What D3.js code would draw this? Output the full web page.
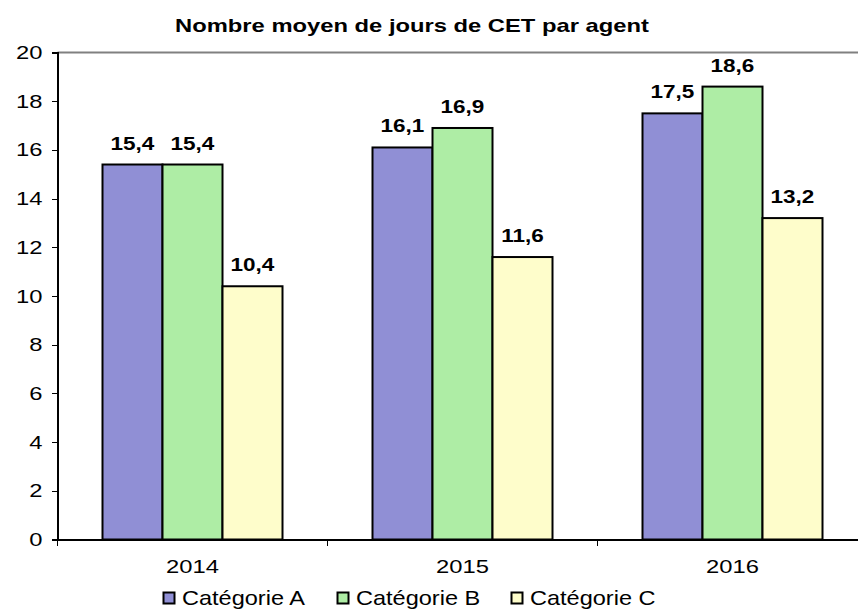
<!doctype html>
<html lang="fr">
<head>
<meta charset="UTF-8">
<title>Nombre moyen de jours de CET par agent</title>
<style>
    body { margin: 0; background: #fff; }
    svg { display: block; font-family: "Liberation Sans", Arial, sans-serif; }
    .axis text { font-size: 19px; fill: #000; }
    .axis path, .axis line { stroke: #000; shape-rendering: crispEdges; }
    .bar { stroke: #000; stroke-width: 2; }
    .label { font-size: 18px; font-weight: bold; text-anchor: middle; }
</style>
</head>
<body>
<svg class="chart"></svg>
<script src="https://d3js.org/d3.v7.min.js"></script>
<script>
    var years = ["2014", "2015", "2016"];
    var series = ["Catégorie A", "Catégorie B", "Catégorie C"];
    var catA = [15.4, 16.1, 17.5];
    var catB = [15.4, 16.9, 18.6];
    var catC = [10.4, 11.6, 13.2];
    var yTicks = [0, 2, 4, 6, 8, 10, 12, 14, 16, 18, 20];
    var colors = ["#908fd5", "#aeeda5", "#fefdcb"];

    var values = [catA, catB, catC];

    var totalWidth = 858, totalHeight = 609;
    var margin = {top: 52.5, left: 57.5};
    var width = 810, height = 487;
    var stretchX = 1.25; // the original picture is wider than tall

    var svg = d3.select(".chart")
        .attr("width", totalWidth)
        .attr("height", totalHeight);

    var g = svg.append("g")
        .attr("transform", "translate(" + margin.left + "," + margin.top + ")");

    var x = d3.scaleBand().domain(years).range([0, width]);
    var inner = d3.scaleBand().domain(series).range([0, x.bandwidth() * 2 / 3]);
    var y = d3.scaleLinear().domain([0, 20]).range([height, 0]);
    var groupOffset = x.bandwidth() / 6;

    // top border of the plot area
    g.append("line")
        .attr("x1", 0).attr("x2", width)
        .attr("y1", 0).attr("y2", 0)
        .attr("stroke", "#808080")
        .attr("stroke-width", 2);

    // y axis
    var yAxis = g.append("g").attr("class", "y axis")
        .call(d3.axisLeft(y).tickValues(yTicks).tickSize(6).tickPadding(9).tickFormat(d3.format("d")));
    yAxis.select(".domain").attr("stroke-width", 1.5);

    // bars
    series.forEach(function(s, i) {
        var grp = g.append("g");
        grp.selectAll("rect").data(values[i]).enter()
            .append("rect").attr("class", "bar")
            .attr("fill", colors[i])
            .attr("x", function(d, j) { return x(years[j]) + groupOffset + inner(s); })
            .attr("y", function(d) { return y(d); })
            .attr("width", inner.bandwidth())
            .attr("height", function(d) { return height - y(d); });

        grp.selectAll("text").data(values[i]).enter()
            .append("text").attr("class", "label")
            .attr("x", function(d, j) { return x(years[j]) + groupOffset + inner(s) + inner.bandwidth() / 2; })
            .attr("y", function(d) { return y(d) - 15; })
            .text(function(d) { return d3.format(".1f")(d).replace(".", ","); });
    });

    // x axis
    var xAxis = g.append("g").attr("class", "x axis")
        .attr("transform", "translate(0," + height + ")")
        .call(d3.axisBottom(x).tickSize(0).tickPadding(20));
    xAxis.select(".domain").attr("stroke-width", 1.5);
    xAxis.selectAll(".bound").data([0, x.bandwidth(), 2 * x.bandwidth()]).enter()
        .append("line").attr("class", "bound")
        .attr("x1", function(d) { return d; }).attr("x2", function(d) { return d; })
        .attr("y1", 0).attr("y2", 6);

    // title
    svg.append("text")
        .attr("x", 412).attr("y", 32)
        .attr("text-anchor", "middle")
        .style("font-size", "19px").style("font-weight", "bold")
        .text("Nombre moyen de jours de CET par agent");

    // widen every text the way the original is widened
    svg.selectAll("text").each(function() {
        var w = this.getComputedTextLength();
        d3.select(this)
            .attr("textLength", w * stretchX)
            .attr("lengthAdjust", "spacingAndGlyphs");
    });

    // legend (a little taller, less widened)
    var legend = svg.append("g").attr("transform", "translate(163,592)");
    var item = legend.selectAll("g").data(series).enter().append("g")
        .attr("transform", function(d, i) { return "translate(" + (i * 174) + ",0)"; });
    item.append("rect")
        .attr("x", 0.5).attr("y", 0.5)
        .attr("width", 11).attr("height", 11)
        .attr("fill", function(d, i) { return colors[i]; })
        .attr("stroke", "#000").attr("stroke-width", 2);
    item.append("text")
        .attr("x", 19).attr("y", 13)
        .style("font-size", "21px")
        .text(function(d) { return d; })
        .each(function() {
            var w = this.getComputedTextLength();
            d3.select(this)
                .attr("textLength", w * 1.12)
                .attr("lengthAdjust", "spacingAndGlyphs");
        });
</script>
</body>
</html>
